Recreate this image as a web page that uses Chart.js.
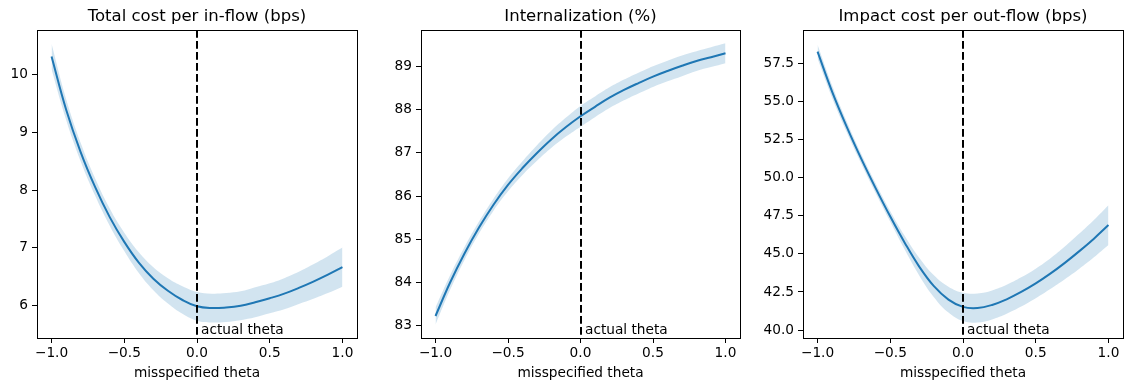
<!DOCTYPE html>
<html>
<head>
<meta charset="utf-8">
<title>misspecified theta</title>
<script src="https://cdn.jsdelivr.net/npm/chart.js@4.4.1/dist/chart.umd.min.js"></script>
<style>
  body { margin: 0; background: #fff; }
  #wrap { position: relative; width: 1132px; height: 391px; overflow: hidden; }
  #wrap canvas { position: absolute; top: 0; }
</style>
</head>
<body>
<div id="wrap">
  <canvas id="cost-chart" width="372" height="391" style="left:0px;width:372px;height:391px"></canvas>
  <canvas id="intern-chart" width="372" height="391" style="left:380px;width:372px;height:391px"></canvas>
  <canvas id="impact-chart" width="372" height="391" style="left:760px;width:372px;height:391px"></canvas>
</div>
<script>
// x values shared by all three panels
const thetas = [-1.0, -0.9, -0.8, -0.7, -0.6, -0.5, -0.4, -0.3, -0.2, -0.1, 0.0,
                0.1, 0.2, 0.3, 0.4, 0.5, 0.6, 0.7, 0.8, 0.9, 1.0];
const xTicks = [-1.0, -0.5, 0.0, 0.5, 1.0];
const xTickLabels = ['\u22121.0', '\u22120.5', '0.0', '0.5', '1.0'];
const xLabel = 'misspecified theta';
const markerTheta = 0.0;
const markerText = 'actual theta';

// Total cost per in-flow (bps)
const costMean  = [10.32, 9.40, 8.66, 8.05, 7.53, 7.10, 6.74, 6.46, 6.25, 6.09, 5.98,
                   5.95, 5.96, 5.99, 6.05, 6.12, 6.20, 6.30, 6.41, 6.53, 6.66];
const costUpper = [10.54, 9.58, 8.82, 8.20, 7.68, 7.26, 6.92, 6.66, 6.47, 6.33, 6.23,
                   6.20, 6.21, 6.24, 6.31, 6.38, 6.47, 6.58, 6.71, 6.85, 7.00];
const costLower = [10.10, 9.22, 8.50, 7.90, 7.38, 6.94, 6.56, 6.26, 6.03, 5.85, 5.73,
                   5.70, 5.71, 5.74, 5.79, 5.86, 5.93, 6.02, 6.11, 6.21, 6.32];
const costTicks = [6, 7, 8, 9, 10];
const costTickLabels = ['6', '7', '8', '9', '10'];

// Internalization (%)
const internMean  = [83.22, 83.99, 84.67, 85.27, 85.80, 86.26, 86.65, 87.00, 87.32, 87.60, 87.85,
                     88.07, 88.28, 88.46, 88.62, 88.77, 88.90, 89.02, 89.13, 89.22, 89.31];
const internUpper = [83.42, 84.16, 84.82, 85.41, 85.94, 86.41, 86.81, 87.18, 87.52, 87.82, 88.09,
                     88.31, 88.52, 88.70, 88.86, 89.01, 89.14, 89.26, 89.36, 89.45, 89.54];
const internLower = [83.02, 83.82, 84.52, 85.13, 85.66, 86.11, 86.49, 86.82, 87.12, 87.38, 87.61,
                     87.83, 88.04, 88.22, 88.38, 88.53, 88.66, 88.78, 88.90, 88.99, 89.08];
const internTicks = [83, 84, 85, 86, 87, 88, 89];
const internTickLabels = ['83', '84', '85', '86', '87', '88', '89'];

// Impact cost per out-flow (bps)
const impactMean  = [58.27, 55.65, 53.35, 51.25, 49.30, 47.45, 45.72, 44.15, 42.88, 42.00, 41.52,
                     41.45, 41.65, 42.02, 42.50, 43.06, 43.70, 44.41, 45.18, 46.00, 46.89];
const impactUpper = [58.72, 56.05, 53.70, 51.57, 49.62, 47.80, 46.17, 44.73, 43.60, 42.85, 42.45,
                     42.40, 42.60, 42.97, 43.46, 44.03, 44.70, 45.48, 46.33, 47.22, 48.19];
const impactLower = [57.82, 55.25, 53.00, 50.93, 48.98, 47.10, 45.27, 43.57, 42.16, 41.15, 40.59,
                     40.50, 40.70, 41.07, 41.54, 42.09, 42.70, 43.34, 44.03, 44.78, 45.59];
const impactTicks = [40.0, 42.5, 45.0, 47.5, 50.0, 52.5, 55.0, 57.5];
const impactTickLabels = ['40.0', '42.5', '45.0', '47.5', '50.0', '52.5', '55.0', '57.5'];

const FONT = 'DejaVu Sans';
const lineColor = '#1f77b4';
const bandColor = 'rgba(31, 119, 180, 0.2)';

function pts(ys) {
  return thetas.map(function (t, i) { return { x: t, y: ys[i] }; });
}

// axes frame, the dashed marker at theta = 0 and its label
const frameAndMarker = {
  id: 'frameAndMarker',
  afterDatasetsDraw: function (chart) {
    const ctx = chart.ctx;
    const a = chart.chartArea;
    const xs = chart.scales.x;
    const px = Math.round(xs.getPixelForValue(markerTheta));
    ctx.save();
    ctx.strokeStyle = '#000';
    ctx.lineWidth = 2;
    ctx.setLineDash([7.7, 3.3]);
    ctx.beginPath();
    ctx.moveTo(px, a.top);
    ctx.lineTo(px, a.bottom);
    ctx.stroke();
    ctx.setLineDash([]);
    ctx.fillStyle = '#000';
    ctx.font = '13.7px "' + FONT + '"';
    ctx.textBaseline = 'middle';
    ctx.textAlign = 'left';
    ctx.fillText(markerText, px + 4, a.bottom - 8);
    ctx.lineWidth = 1;
    ctx.strokeRect(Math.round(a.left) + 0.5, Math.round(a.top) + 0.5,
                   Math.round(a.right - a.left), Math.round(a.bottom - a.top));
    ctx.restore();
  }
};

function makePanel(id, p) {
  const ctx = document.getElementById(id);
  return new Chart(ctx, {
    type: 'line',
    data: {
      datasets: [{
          data: pts(p.mean),
          borderColor: lineColor,
          borderWidth: 2,
          pointRadius: 0,
          fill: false,
          tension: 0.4
        },
        {
          data: pts(p.upper),
          borderWidth: 0,
          borderColor: 'rgba(0,0,0,0)',
          backgroundColor: bandColor,
          pointRadius: 0,
          fill: '+1',
          tension: 0.4
        },
        {
          data: pts(p.lower),
          borderWidth: 0,
          borderColor: 'rgba(0,0,0,0)',
          pointRadius: 0,
          fill: false,
          tension: 0.4
        }
      ]
    },
    options: {
      responsive: false,
      animation: false,
      layout: { padding: { left: 0, right: p.padRight, top: 0, bottom: 0 } },
      plugins: {
        legend: { display: false },
        tooltip: { enabled: false },
        title: {
          display: true,
          text: p.title,
          fullSize: false,
          color: '#000',
          font: { family: FONT, size: 16.5, weight: 'normal' },
          padding: { top: 7, bottom: 3.2 }
        }
      },
      scales: {
        x: {
          type: 'linear',
          min: -1.1,
          max: 1.1,
          afterBuildTicks: function (scale) {
            scale.ticks = xTicks.map(function (v) { return { value: v }; });
          },
          afterFit: function (scale) { scale.height = 53; },
          ticks: {
            color: '#000',
            font: { family: FONT, size: 13.7 },
            padding: 2,
            maxRotation: 0,
            autoSkip: false,
            callback: function (v, i) { return xTickLabels[i]; }
          },
          grid: { display: true, drawOnChartArea: false, drawTicks: true, tickLength: 5, tickColor: '#000' },
          border: { display: false },
          title: {
            display: true,
            text: xLabel,
            color: '#000',
            font: { family: FONT, size: 13.7 },
            padding: { top: 0, bottom: 9.5 }
          }
        },
        y: {
          type: 'linear',
          min: p.yMin,
          max: p.yMax,
          afterBuildTicks: function (scale) {
            scale.ticks = p.ticks.map(function (v) { return { value: v }; });
          },
          afterFit: function (scale) { scale.width = p.yWidth; },
          ticks: {
            color: '#000',
            font: { family: FONT, size: 13.7 },
            padding: 4,
            autoSkip: false,
            callback: function (v, i) { return p.tickLabels[i]; }
          },
          grid: { display: true, drawOnChartArea: false, drawTicks: true, tickLength: 5, tickColor: '#000' },
          border: { display: false }
        }
      }
    },
    plugins: [frameAndMarker]
  });
}

makePanel('cost-chart', {
  title: 'Total cost per in-flow (bps)',
  mean: costMean, upper: costUpper, lower: costLower,
  ticks: costTicks, tickLabels: costTickLabels,
  yMin: 5.43, yMax: 10.78, yWidth: 37, padRight: 15
});

makePanel('intern-chart', {
  title: 'Internalization (%)',
  mean: internMean, upper: internUpper, lower: internLower,
  ticks: internTicks, tickLabels: internTickLabels,
  yMin: 82.71, yMax: 89.85, yWidth: 41, padRight: 12
});

makePanel('impact-chart', {
  title: 'Impact cost per out-flow (bps)',
  mean: impactMean, upper: impactUpper, lower: impactLower,
  ticks: impactTicks, tickLabels: impactTickLabels,
  yMin: 39.48, yMax: 59.69, yWidth: 43, padRight: 9
});
</script>
</body>
</html>
